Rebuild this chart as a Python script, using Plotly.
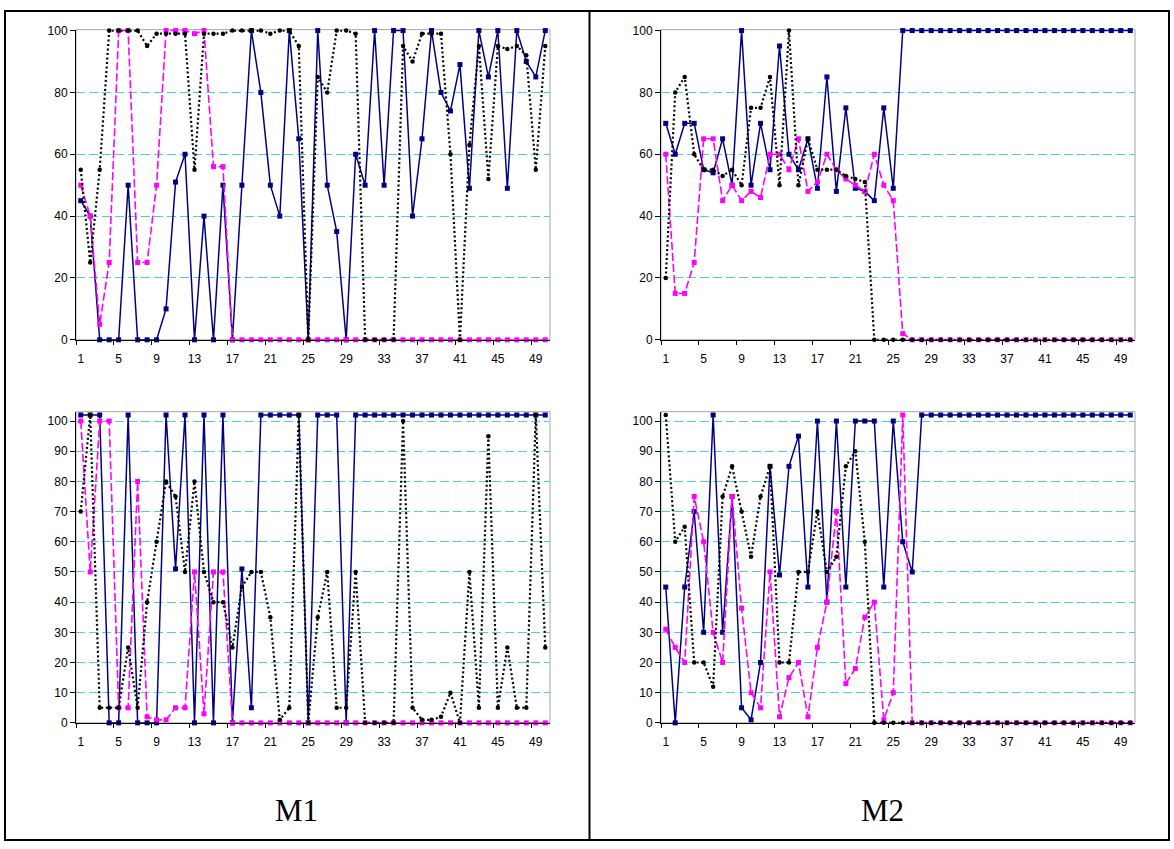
import plotly.graph_objects as go

# ---------------- data ----------------
steps = list(range(1, 51))
x_tick_vals = list(range(1, 51, 4))
x_tick_labels = [str(v) for v in x_tick_vals]
x_minor_ticks = [v + 0.5 for v in range(0, 51, 4)]
top_y_ticks = [0, 20, 40, 60, 80, 100]
bottom_y_ticks = list(range(0, 101, 10))
panel_titles = ["M1", "M2"]

# top-left (M1, upper)
tl_solid = [45, 40, 0, 0, 0, 50, 0, 0, 0, 10, 51, 60, 0, 40, 0, 50, 0, 50, 100, 80,
            50, 40, 100, 65, 0, 100, 50, 35, 0, 60, 50, 100, 50, 100, 100, 40, 65, 100, 80, 74,
            89, 49, 100, 85, 100, 49, 100, 90, 85, 100]
tl_dashed = [50, 40, 5, 25, 100, 100, 25, 25, 50, 100, 100, 100, 99, 100, 56, 56, 0, 0, 0, 0,
             0, 0, 0, 0, 0, 0, 0, 0, 0, 0, 0, 0, 0, 0, 0, 0, 0, 0, 0, 0,
             0, 0, 0, 0, 0, 0, 0, 0, 0, 0]
tl_dotted = [55, 25, 55, 100, 100, 100, 100, 95, 99, 99, 99, 99, 55, 99, 99, 99, 100, 100, 100, 100,
             99, 100, 100, 95, 0, 85, 80, 100, 100, 99, 0, 0, 0, 0, 95, 90, 99, 99, 99, 60,
             0, 63, 95, 52, 95, 94, 95, 92, 55, 95]

# top-right (M2, upper)
tr_solid = [70, 60, 70, 70, 55, 54, 65, 50, 100, 50, 70, 55, 95, 60, 55, 65, 49, 85, 48, 75,
            49, 48, 45, 75, 49, 100, 100, 100, 100, 100, 100, 100, 100, 100, 100, 100, 100, 100, 100, 100,
            100, 100, 100, 100, 100, 100, 100, 100, 100, 100]
tr_dashed = [60, 15, 15, 25, 65, 65, 45, 50, 45, 48, 46, 60, 60, 55, 65, 48, 51, 60, 55, 52,
             50, 48, 60, 50, 45, 2, 0, 0, 0, 0, 0, 0, 0, 0, 0, 0, 0, 0, 0, 0,
             0, 0, 0, 0, 0, 0, 0, 0, 0, 0]
tr_dotted = [20, 80, 85, 60, 55, 55, 53, 55, 50, 75, 75, 85, 50, 100, 50, 65, 55, 55, 55, 53,
             52, 51, 0, 0, 0, 0, 0, 0, 0, 0, 0, 0, 0, 0, 0, 0, 0, 0, 0, 0,
             0, 0, 0, 0, 0, 0, 0, 0, 0, 0]

# bottom-left (M1, lower)
bl_solid = [102, 102, 102, 0, 0, 102, 0, 0, 0, 102, 51, 102, 0, 102, 0, 102, 0, 51, 5, 102,
            102, 102, 102, 102, 0, 102, 102, 102, 0, 102, 102, 102, 102, 102, 102, 102, 102, 102, 102, 102,
            102, 102, 102, 102, 102, 102, 102, 102, 102, 102]
bl_dashed = [100, 50, 100, 100, 5, 5, 80, 2, 1, 1, 5, 5, 50, 3, 50, 50, 0, 0, 0, 0,
             0, 0, 0, 0, 0, 0, 0, 0, 0, 0, 0, 0, 0, 0, 0, 0, 0, 0, 0, 0,
             0, 0, 0, 0, 0, 0, 0, 0, 0, 0]
bl_dotted = [70, 102, 5, 5, 5, 25, 5, 40, 60, 80, 75, 50, 80, 50, 40, 40, 25, 45, 50, 50,
             35, 1, 5, 102, 0, 35, 50, 5, 5, 50, 0, 0, 0, 0, 100, 5, 1, 1, 2, 10,
             0, 50, 5, 95, 5, 25, 5, 5, 102, 25]

# bottom-right (M2, lower)
br_solid = [45, 0, 45, 70, 30, 102, 30, 75, 5, 1, 20, 85, 49, 85, 95, 45, 100, 40, 100, 45,
            100, 100, 100, 45, 100, 60, 50, 102, 102, 102, 102, 102, 102, 102, 102, 102, 102, 102, 102, 102,
            102, 102, 102, 102, 102, 102, 102, 102, 102, 102]
br_dashed = [31, 25, 20, 75, 60, 30, 20, 75, 38, 10, 5, 50, 2, 15, 20, 2, 25, 40, 70, 13,
             18, 35, 40, 1, 10, 102, 0, 0, 0, 0, 0, 0, 0, 0, 0, 0, 0, 0, 0, 0,
             0, 0, 0, 0, 0, 0, 0, 0, 0, 0]
br_dotted = [102, 60, 65, 20, 20, 12, 75, 85, 70, 55, 75, 85, 20, 20, 50, 50, 70, 50, 55, 85,
             90, 60, 0, 0, 0, 0, 0, 0, 0, 0, 0, 0, 0, 0, 0, 0, 0, 0, 0, 0,
             0, 0, 0, 0, 0, 0, 0, 0, 0, 0]

# ---------------- styling ----------------
W, H = 1174, 849
NAVY = "#000080"
MAGENTA = "#FF00FF"
BLACK = "#000000"
GRID = "#4fd2d2"

panels = [
    # (solid, dashed, dotted, x px range, y px range, yticks, ymax)
    (tl_solid, tl_dashed, tl_dotted, (76, 550), (24, 339), top_y_ticks, 100.3),
    (tr_solid, tr_dashed, tr_dotted, (661, 1135), (24, 339), top_y_ticks, 100.3),
    (bl_solid, bl_dashed, bl_dotted, (76, 550), (412, 728), bottom_y_ticks, 103.1),
    (br_solid, br_dashed, br_dotted, (661, 1135), (412, 728), bottom_y_ticks, 103.1),
]

fig = go.Figure()
layout = {}
shapes = []

for i, (solid, dashed, dotted, xpx, ypx, yticks, ymax) in enumerate(panels, start=1):
    suffix = "" if i == 1 else str(i)
    xa = "x" + suffix
    ya = "y" + suffix
    fig.add_trace(go.Scatter(x=steps, y=solid, xaxis=xa, yaxis=ya, mode="lines+markers",
                             line=dict(color=NAVY, width=1.5),
                             marker=dict(symbol="square", size=5, color=NAVY),
                             cliponaxis=False, showlegend=False))
    fig.add_trace(go.Scatter(x=steps, y=dashed, xaxis=xa, yaxis=ya, mode="lines+markers",
                             line=dict(color=MAGENTA, width=1.6, dash="8px,3px"),
                             marker=dict(symbol="square", size=5, color=MAGENTA),
                             cliponaxis=False, showlegend=False))
    fig.add_trace(go.Scatter(x=steps, y=dotted, xaxis=xa, yaxis=ya, mode="lines+markers",
                             line=dict(color=BLACK, width=2.2, dash="2px,2.5px"),
                             marker=dict(symbol="circle", size=4.5, color=BLACK),
                             cliponaxis=False, showlegend=False))

    layout["xaxis" + suffix] = dict(
        domain=[xpx[0] / W, xpx[1] / W], anchor=ya, range=[0.5, 50.5],
        tickmode="array", tickvals=x_tick_vals, ticktext=x_tick_labels, ticks="",
        ticklabelstandoff=8,
        minor=dict(tickmode="array", tickvals=x_minor_ticks, ticks="outside",
                   ticklen=4, tickcolor="#000000", tickwidth=1),
        showline=True, linecolor="#000000", linewidth=1, showgrid=False, zeroline=False,
        tickfont=dict(family="Liberation Sans, Arial", size=12, color="#000000"),
    )
    layout["yaxis" + suffix] = dict(
        domain=[1 - ypx[1] / H, 1 - ypx[0] / H], anchor=xa, range=[0, ymax],
        tickmode="array", tickvals=yticks, ticks="outside", ticklen=5,
        tickcolor="#000000", tickwidth=1,
        showline=True, linecolor="#000000", linewidth=1,
        showgrid=True, gridcolor=GRID, gridwidth=1, griddash="9px,4px", zeroline=False,
        tickfont=dict(family="Liberation Sans, Arial", size=12, color="#000000"),
    )
    shapes.append(dict(type="rect", xref=xa + " domain", yref=ya + " domain",
                       x0=0, x1=1, y0=0, y1=1, line=dict(color="#a6a6a6", width=1),
                       layer="below"))

# outer frame and divider
shapes.append(dict(type="rect", xref="paper", yref="paper",
                   x0=5 / W, x1=1169 / W, y0=1 - 847 / H, y1=1 - 5 / H,
                   line=dict(color="#000000", width=2)))
shapes.append(dict(type="line", xref="paper", yref="paper",
                   x0=589.5 / W, x1=589.5 / W, y0=1 - 847 / H, y1=1 - 5 / H,
                   line=dict(color="#000000", width=2)))

annotations = [
    dict(text=panel_titles[0], xref="paper", yref="paper", x=297 / W, y=1 - 817 / H,
         showarrow=False, font=dict(family="Liberation Serif, DejaVu Serif", size=31, color="#000000"),
         xanchor="center", yanchor="middle"),
    dict(text=panel_titles[1], xref="paper", yref="paper", x=882 / W, y=1 - 817 / H,
         showarrow=False, font=dict(family="Liberation Serif, DejaVu Serif", size=31, color="#000000"),
         xanchor="center", yanchor="middle"),
]

fig.update_layout(
    width=W, height=H, margin=dict(l=0, r=0, t=0, b=0),
    paper_bgcolor="#ffffff", plot_bgcolor="#ffffff",
    shapes=shapes, annotations=annotations, **layout,
)

fig.write_html("out.html")
